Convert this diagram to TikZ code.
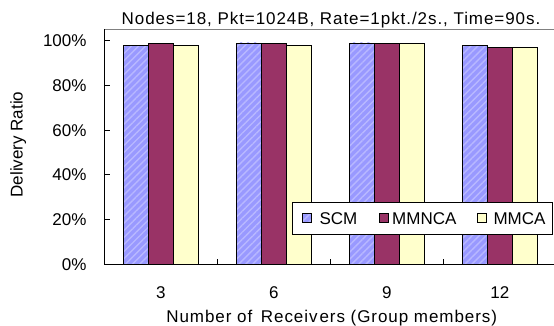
\documentclass[tikz,border=0pt]{standalone}
\usepackage{fontspec}
\setmainfont{Liberation Sans}
\newfontfamily\widefont[LetterSpace=5.5]{Liberation Sans}
\usetikzlibrary{patterns.meta}
\definecolor{scmblue}{HTML}{9999FF}
\definecolor{scmhatch}{HTML}{B8B8FF}
\definecolor{plum}{HTML}{993366}
\definecolor{cream}{HTML}{FFFFCC}
\definecolor{framegray}{HTML}{808080}
\begin{document}
\begin{tikzpicture}[x=1pt,y=-1pt,
  lbl/.style={font=\fontsize{17}{20}\selectfont, inner sep=0pt},
  widelbl/.style={font=\fontsize{17}{20}\selectfont\widefont, inner sep=0pt},
  barline/.style={draw=black, line width=0.8pt},
  scmbar/.style={barline, preaction={fill=scmblue}, pattern={Lines[angle=45,distance=5pt,line width=1.4pt]}, pattern color=scmhatch},
  mmncabar/.style={barline, fill=plum},
  mmcabar/.style={barline, fill=cream},
  axisline/.style={draw=black, line width=0.9pt},
]
\useasboundingbox (0,0) rectangle (554,326);
% plot frame (top)
\draw[framegray, line width=0.9pt] (104.3,29.3) -- (554,29.3);
% bars
\foreach \g/\a/\b/\c [count=\i from 0] in {3/98/99/98, 6/99/99/98, 9/99/99/99, 12/98/97/97} {
  \pgfmathsetmacro\cx{160.8+113*\i}
  \path[scmbar]   (\cx-37.8,264.3) rectangle (\cx-12.6,264.3-2.236*\a);
  \path[mmncabar] (\cx-12.6,264.3) rectangle (\cx+12.6,264.3-2.236*\b);
  \path[mmcabar]  (\cx+12.6,264.3) rectangle (\cx+37.8,264.3-2.236*\c);
  \node[lbl, anchor=base] (xl\i) at (\cx,298.3) {\g};
}
% axes
\draw[axisline] (104.3,29.3) -- (104.3,264.3) -- (554,264.3);
\foreach \k in {1,2,3} \draw[axisline] (104.3+113*\k,264.3) -- (104.3+113*\k,259.3);
\foreach \k/\t in {0/0\%,1/20\%,2/40\%,3/60\%,4/80\%,5/100\%} {
  \ifnum\k>0 \draw[axisline] (104.3,264.3-44.72*\k) -- (110,264.3-44.72*\k); \fi
  \node[lbl, anchor=base east] (yl\k) at (86.7,264.3-44.72*\k+6.1) {\t};
}
% titles
\node[widelbl, anchor=base] (title) at (331,25) {Nodes=18, Pkt=1024B, Rate=1pkt./2s., Time=90s.};
\node[widelbl, anchor=base] (xtitle) at (331.7,322.7) {Number of\hspace{3pt} Receiv\hspace{2pt}ers (Group members)};
\node[lbl, rotate=90, anchor=base] (ytitle) at (22.7,144.5) {Delivery Ratio};
% legend
\draw[fill=white, line width=0.8pt] (292.3,202.3) rectangle (552.7,234);
\path[scmbar]   (302.7,213.8) rectangle (311.7,222.8);
\path[mmncabar] (379.3,213.8) rectangle (388.3,222.8);
\path[mmcabar]  (477.7,213.8) rectangle (486.7,222.8);
\node[lbl, anchor=base west] (lscm) at (319.3,224.4) {SCM};
\node[lbl, anchor=base west] (lmmnca) at (392,224.4) {MMNCA};
\node[lbl, anchor=base west] (lmmca) at (493.3,224.4) {MMCA};
\end{tikzpicture}
\end{document}
